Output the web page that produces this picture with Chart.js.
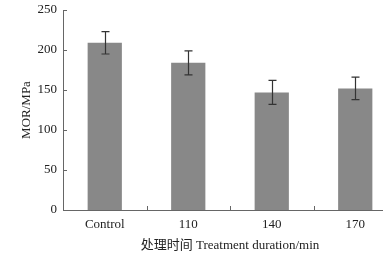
<!DOCTYPE html>
<html>
<head>
<meta charset="utf-8">
<script src="https://cdn.jsdelivr.net/npm/chart.js@4"></script>
<style>
    html, body { margin: 0; padding: 0; background: #fff; overflow: hidden; }
    #wrap { width: 383px; height: 256px; overflow: hidden; }
</style>
</head>
<body>
<div id="wrap"><canvas id="morChart" width="400" height="256"></canvas></div>
<script>
// MOR by treatment duration
const categories = ['Control', '110', '140', '170'];
const morValues = [209, 184, 147, 152];
const morErrors = [14, 15, 15, 14];
const yTicks = [0, 50, 100, 150, 200, 250];

const serif = "'Liberation Serif', 'Times New Roman', serif";
const axisColor = '#666666';

// error bars + inward tick marks
const extrasPlugin = {
    id: 'extras',
    afterDatasetsDraw(chart) {
        const ctx = chart.ctx;
        const x = chart.scales.x;
        const y = chart.scales.y;
        const area = chart.chartArea;

        ctx.save();
        ctx.strokeStyle = '#333333';
        ctx.lineWidth = 1.2;
        morValues.forEach((v, i) => {
            const cx = Math.round(x.getPixelForValue(i)) + 0.5;
            const top = y.getPixelForValue(v + morErrors[i]);
            const bot = y.getPixelForValue(v - morErrors[i]);
            ctx.beginPath();
            ctx.moveTo(cx, top);
            ctx.lineTo(cx, bot);
            ctx.moveTo(cx - 4, top);
            ctx.lineTo(cx + 4, top);
            ctx.moveTo(cx - 4, bot);
            ctx.lineTo(cx + 4, bot);
            ctx.stroke();
        });

        ctx.strokeStyle = axisColor;
        ctx.lineWidth = 1;
        yTicks.forEach(t => {
            const py = Math.round(y.getPixelForValue(t)) + 0.5;
            ctx.beginPath();
            ctx.moveTo(area.left, py);
            ctx.lineTo(area.left + 4, py);
            ctx.stroke();
        });
        for (let i = 0; i < categories.length - 1; i++) {
            const px = Math.round((x.getPixelForValue(i) + x.getPixelForValue(i + 1)) / 2) + 0.5;
            ctx.beginPath();
            ctx.moveTo(px, area.bottom);
            ctx.lineTo(px, area.bottom - 4);
            ctx.stroke();
        }
        ctx.restore();
    }
};

new Chart(document.getElementById('morChart'), {
    type: 'bar',
    data: {
        labels: categories,
        datasets: [{
            data: morValues,
            backgroundColor: '#888888',
            borderWidth: 0,
            barPercentage: 0.41,
            categoryPercentage: 1
        }]
    },
    options: {
        responsive: false,
        animation: false,
        layout: { padding: { top: 10, right: 3, left: 0, bottom: 0 } },
        plugins: {
            legend: { display: false },
            tooltip: { enabled: false }
        },
        scales: {
            x: {
                grid: { display: false, drawTicks: false },
                border: { color: axisColor, width: 1 },
                ticks: { color: '#222', padding: 7, font: { family: serif, size: 13 } },
                title: {
                    display: true,
                    text: '处理时间 Treatment duration/min',
                    color: '#222',
                    padding: { top: 0, bottom: 3 },
                    font: { family: "'Liberation Serif', 'Noto Sans CJK SC', serif", size: 13 }
                },
                afterFit(scale) { scale.height = 46; }
            },
            y: {
                min: 0,
                max: 250,
                grid: { display: false, drawTicks: false },
                border: { color: axisColor, width: 1 },
                ticks: {
                    stepSize: 50,
                    color: '#222',
                    padding: 6,
                    font: { family: serif, size: 13, lineHeight: 1 },
                    callback: v => yTicks.includes(v) ? v : ''
                },
                title: {
                    display: true,
                    text: 'MOR/MPa',
                    color: '#222',
                    padding: { top: 19, bottom: 0 },
                    font: { family: serif, size: 13 }
                },
                afterFit(scale) {
                    scale.width = 63;
                    scale.paddingTop = 0;
                    scale.paddingBottom = 0;
                }
            }
        }
    },
    plugins: [extrasPlugin]
});
</script>
</body>
</html>
